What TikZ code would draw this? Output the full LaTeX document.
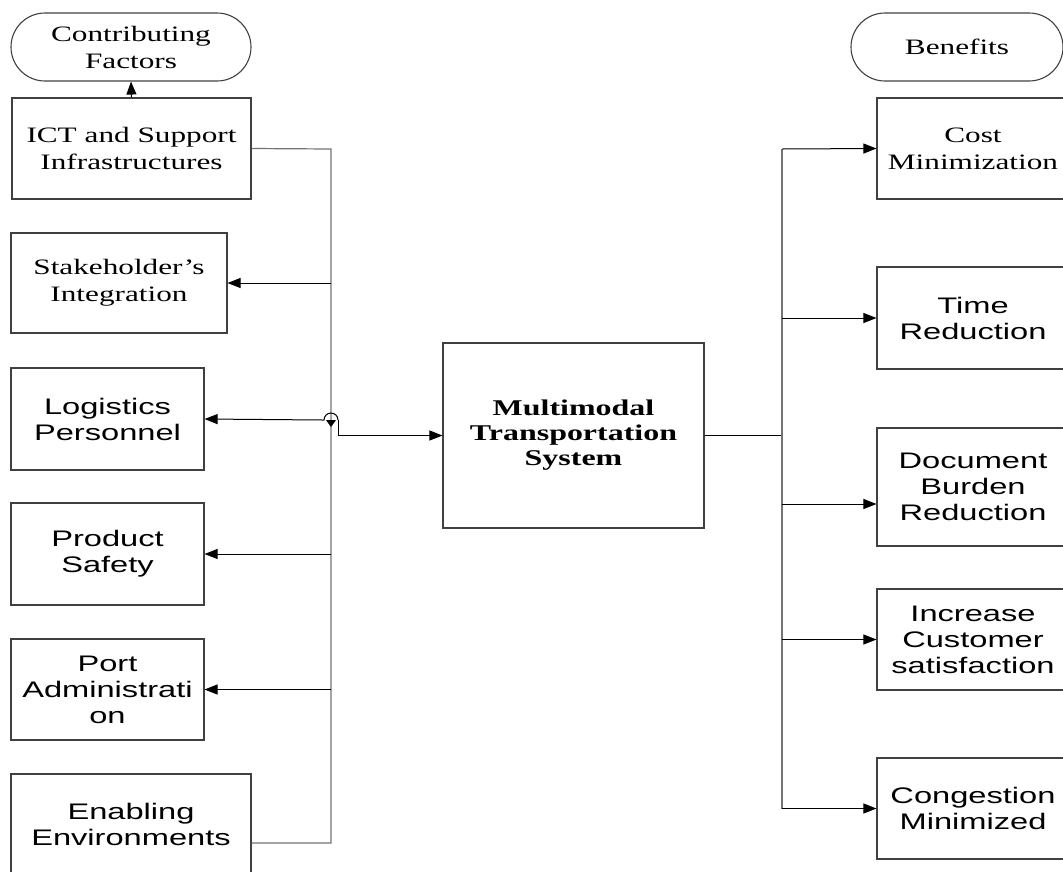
\documentclass[tikz,border=0pt]{standalone}
\usepackage{fontspec}
\usetikzlibrary{arrows.meta}
\newfontfamily\rmw[FakeStretch=1.42]{Liberation Serif}
\newfontfamily\sfw[FakeStretch=1.45]{Liberation Sans}
\begin{document}
\begin{tikzpicture}[x=1pt,y=-1pt]
\tikzstyle{bx} = [draw=black!75,line width=1.1pt,align=center,inner sep=0pt] %box
\tikzstyle{rbx} = [bx,font=\rmw\fontsize{22}{27}\selectfont] %serif box
\tikzstyle{sbx} = [bx,font=\sfw\fontsize{22.5}{26}\selectfont] %sans box
\tikzstyle{pill} = [rbx,rounded corners=34pt,minimum height=68pt] %heading
\tikzstyle{bus} = [-,draw=black!55,line width=1.2pt] %bus line
\tikzstyle{ln} = [-,line width=1pt] %plain line
\tikzstyle{ar} = [-{Triangle[length=13pt,width=10pt]},line width=1pt] %arrow
\useasboundingbox (0,0) rectangle (1063,871);
\clip (0,0) rectangle (1063,871);
% headings
\node[pill,minimum width=240pt](cf)at(131,47){Contributing\\Factors};
\node[pill,minimum width=212pt](bn)at(957,47){Benefits};
% contributing factors
\node[rbx,minimum width=239pt,minimum height=101pt](ict)at(131.5,148.5){ICT and Support\\Infrastructures};
\node[rbx,minimum width=216pt,minimum height=100pt](sh)at(119,283){Stakeholder’s\\Integration};
\node[sbx,minimum width=193pt,minimum height=102pt](lp)at(107.5,419){Logistics\\Personnel};
\node[sbx,minimum width=193pt,minimum height=102pt](ps)at(107.5,554){Product\\Safety};
\node[sbx,minimum width=193pt,minimum height=101pt](pa)at(107.5,689.5){Port\\Administrati\\on};
\node[sbx,minimum width=240pt,minimum height=101pt](en)at(131,824.5){Enabling\\Environments};
% system
\node[bx,font=\rmw\bfseries\fontsize{22.5}{25}\selectfont,minimum width=261pt,minimum height=185pt](mts)at(573.5,435.5){Multimodal\\Transportation\\System};
% benefits
\node[rbx,minimum width=192pt,minimum height=101pt](cm)at(973,148.5){Cost\\Minimization};
\node[sbx,minimum width=192pt,minimum height=102pt](tr)at(973,318){Time\\Reduction};
\node[sbx,minimum width=192pt,minimum height=118pt](db)at(973,487){Document\\Burden\\Reduction};
\node[sbx,minimum width=192pt,minimum height=101pt](ic)at(973,639.5){Increase\\Customer\\satisfaction};
\node[sbx,minimum width=192pt,minimum height=101pt](cg)at(973,808.5){Congestion\\Minimized};
% left bus
\coordinate(ltop)at(331,149);
\coordinate(lbot)at(331,843);
\coordinate(hop)at(331,420);
\coordinate(enout)at([yshift=-18.5pt]en.east);
\draw[ar](ict.north)--(cf.south);
\draw[bus](ict.east)--(ltop)--(lbot)--(enout);
\draw[ar](ltop|-sh.east)--(sh.east);
\draw[ar]([xshift=-8pt]hop)--(lp.east);
\draw[ar](ltop|-ps.east)--(ps.east);
\draw[ar](ltop|-pa.east)--(pa.east);
\draw[ln]([xshift=-8pt]hop)--([xshift=-7pt]hop) arc[start angle=180,end angle=0,radius=7pt];
\fill([xshift=-5pt]hop)--([xshift=5pt]hop)--([yshift=-7pt]hop)--cycle;
\draw[ar]([xshift=7pt]hop)|-(mts.west);
% right bus
\coordinate(rtop)at(782,149);
\coordinate(rbot)at(782,809);
\coordinate(dbin)at([yshift=-17pt]db.west);
\draw[ln](mts.east)--(rtop|-mts.east);
\draw[bus](rtop)--(rbot);
\draw[ar](rtop)--(cm.west);
\draw[ar](rtop|-tr.west)--(tr.west);
\draw[ar](rtop|-dbin)--(dbin);
\draw[ar](rtop|-ic.west)--(ic.west);
\draw[ar](rtop|-cg.west)--(cg.west);
\end{tikzpicture}
\end{document}
